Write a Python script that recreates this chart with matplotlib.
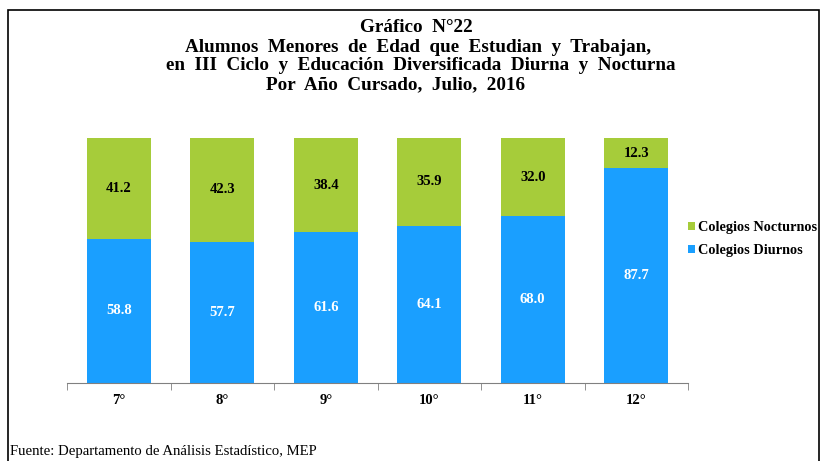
import matplotlib
matplotlib.use("Agg")
import matplotlib.pyplot as plt
from matplotlib.patches import Rectangle
import numpy as np

plt.rcParams["font.family"] = ["Liberation Serif", "DejaVu Serif"]

grados = ["7°", "8°", "9°", "10°", "11°", "12°"]
diurnos = [58.8, 57.7, 61.6, 64.1, 68.0, 87.7]
nocturnos = [41.2, 42.3, 38.4, 35.9, 32.0, 12.3]

AZUL = "#1a9fff"
VERDE = "#a6cc3a"

fig = plt.figure(figsize=(8.24, 4.61), dpi=100)
ax = fig.add_axes([67 / 824, 1 - 383 / 461, (688 - 67) / 824, (383 - 138) / 461])

x = np.arange(len(grados))
bw = 0.62
b1 = ax.bar(x, diurnos, bw, color=AZUL, label="Colegios Diurnos")
b2 = ax.bar(x, nocturnos, bw, bottom=diurnos, color=VERDE, label="Colegios Nocturnos")

for i in range(len(grados)):
    ax.text(x[i], diurnos[i] / 2, f"{diurnos[i]:.1f}", ha="center", va="center",
            color="white", fontsize=10.5, fontweight="bold")
    ax.text(x[i], diurnos[i] + nocturnos[i] / 2, f"{nocturnos[i]:.1f}", ha="center",
            va="center", color="black", fontsize=10.5, fontweight="bold")

ax.set_xlim(-0.5, len(grados) - 0.5)
ax.set_ylim(0, 100)
ax.set_yticks([])
for s in ["left", "right", "top"]:
    ax.spines[s].set_visible(False)
ax.spines["bottom"].set_color("#808080")
ax.set_xticks(x)
ax.set_xticklabels(grados, fontsize=10.5, fontweight="bold")
ax.set_xticks(np.arange(len(grados) + 1) - 0.5, minor=True)
ax.tick_params(axis="x", which="major", length=0, pad=8)
ax.tick_params(axis="x", which="minor", length=5, color="#808080")

handles = [b2, b1]
ax.legend(handles, [h.get_label() for h in handles], loc="center left",
          bbox_to_anchor=(675 / 824, 1 - 239 / 461), bbox_transform=fig.transFigure,
          frameon=False, prop={"size": 10.3, "weight": "bold"},
          handlelength=0.5, handleheight=0.5, handletextpad=0.2, labelspacing=0.7)

titulo = ["Gráfico  N°22",
          "Alumnos  Menores  de  Edad  que  Estudian  y  Trabajan,",
          "en  III  Ciclo  y  Educación  Diversificada  Diurna  y  Nocturna",
          "Por  Año  Cursado,  Julio,  2016"]
ys = [28, 47, 66, 85]
xs = [416, 418, 421, 396]
for t, yy, xx in zip(titulo, ys, xs):
    fig.text(xx / 824, 1 - yy / 461, t, ha="center", va="center",
             fontsize=13.8, fontweight="bold")

fig.text(10 / 824, 1 - 451 / 461, "Fuente: Departamento de Análisis Estadístico, MEP",
         ha="left", va="center", fontsize=10.6)

fig.add_artist(Rectangle((8 / 824, -0.01), (819 - 8) / 824, 1 - 10 / 461 + 0.01,
                         transform=fig.transFigure, fill=False, edgecolor="black",
                         linewidth=1.2))

fig.savefig("out.png", dpi=100)
